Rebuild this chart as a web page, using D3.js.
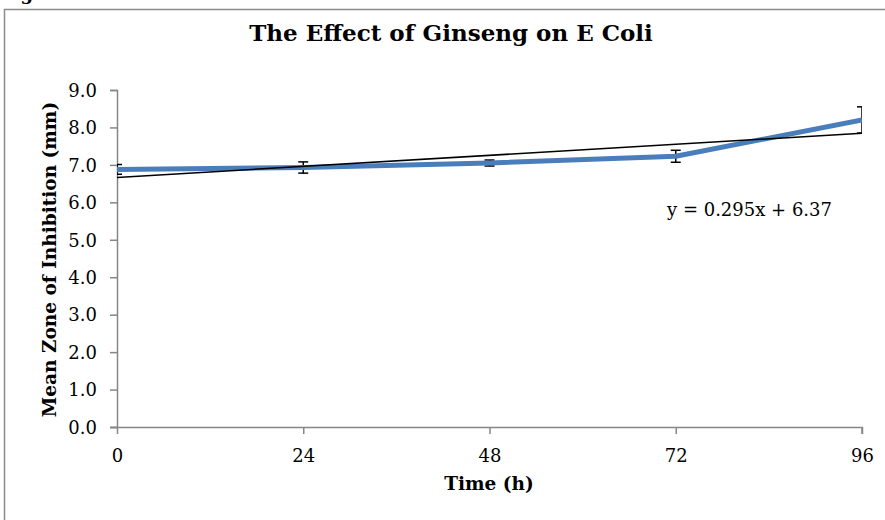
<!DOCTYPE html>
<html>
<head>
<meta charset="utf-8">
<script src="https://cdn.jsdelivr.net/npm/d3@7"></script>
<style>
  body { margin: 0; background: #fff; }
  svg text { font-family: "DejaVu Serif", serif; fill: #000; }
</style>
</head>
<body>
<div id="chart"></div>
<script>
// time points (h) and measured means
var hours = [0, 24, 48, 72, 96];
var meanZone = [6.88, 6.93, 7.05, 7.23, 8.20];
var errZone = [0.13, 0.15, 0.08, 0.16, 0.35];
var yTicks = [0, 1, 2, 3, 4, 5, 6, 7, 8, 9];
// linear trend (Excel style, x = point index 1..n)
var trendSlope = 0.295, trendIntercept = 6.37;

var w = 885, h = 520;
var mLeft = 117, mRight = 862, mTop = 90, mBottom = 427;

var svg = d3.select("#chart").append("svg")
    .attr("width", w)
    .attr("height", h);

// figure caption, cut off at the top edge
svg.append("text")
    .attr("x", 1)
    .attr("y", 0)
    .style("font-weight", "bold")
    .style("font-size", "18px")
    .text("Fig. 3");

// chart frame
svg.append("rect")
    .attr("x", 4.5)
    .attr("y", 9.5)
    .attr("width", 900)
    .attr("height", 540)
    .style("fill", "none")
    .style("stroke", "#8c8c8c")
    .style("stroke-width", 1.5);

var x = d3.scaleLinear().domain([0, 96]).range([mLeft, mRight]);
var y = d3.scaleLinear().domain([0, 9]).range([mBottom, mTop]);

svg.append("defs").append("clipPath")
    .attr("id", "plot")
  .append("rect")
    .attr("x", mLeft)
    .attr("y", mTop - 10)
    .attr("width", mRight - mLeft)
    .attr("height", mBottom - mTop + 10);

// axes
var yAxis = svg.append("g")
    .attr("transform", "translate(" + mLeft + ",0)")
    .call(d3.axisLeft(y).tickValues(yTicks).tickSize(7).tickPadding(13)
      .tickFormat(d3.format(".1f")));

var xAxis = svg.append("g")
    .attr("transform", "translate(0," + mBottom + ")")
    .call(d3.axisBottom(x).tickValues(hours).tickSize(7).tickPadding(15));

[yAxis, xAxis].forEach(function (ax) {
  ax.select(".domain").style("stroke", "#868686").style("stroke-width", 1.5);
  ax.selectAll(".tick line").style("stroke", "#868686").style("stroke-width", 1.5);
  ax.selectAll("text").style("font-size", "18px")
    .style("font-family", "DejaVu Serif, serif").style("fill", "#000");
});
yAxis.selectAll("text").attr("dy", "0.35em");
xAxis.select(".domain").attr("d", "M" + (mLeft - 7) + ",0.5H" + mRight + "V7");

var plot = svg.append("g").attr("clip-path", "url(#plot)");

// error bars
var eb = plot.selectAll("g.err")
    .data(hours.map(function (t, i) { return { t: t, m: meanZone[i], e: errZone[i] }; }))
  .enter().append("g")
    .attr("class", "err")
    .style("stroke", "#000")
    .style("stroke-width", 1.5);

eb.append("line")
    .attr("x1", function (d) { return x(d.t); })
    .attr("x2", function (d) { return x(d.t); })
    .attr("y1", function (d) { return y(d.m - d.e); })
    .attr("y2", function (d) { return y(d.m + d.e); });
eb.selectAll("line.cap")
    .data(function (d) { return [d.m - d.e, d.m + d.e].map(function (v) { return { t: d.t, v: v }; }); })
  .enter().append("line")
    .attr("class", "cap")
    .attr("x1", function (d) { return x(d.t) - 5; })
    .attr("x2", function (d) { return x(d.t) + 5; })
    .attr("y1", function (d) { return y(d.v); })
    .attr("y2", function (d) { return y(d.v); });

// data line
var line = d3.line()
    .x(function (d, i) { return x(hours[i]); })
    .y(function (d) { return y(d); });

plot.append("path")
    .datum(meanZone)
    .attr("d", line)
    .style("fill", "none")
    .style("stroke", "#4a7ebb")
    .style("stroke-width", 5)
    .style("stroke-linejoin", "round");

// trend line
plot.append("line")
    .attr("x1", x(hours[0]))
    .attr("x2", x(hours[hours.length - 1]))
    .attr("y1", y(trendSlope * 1 + trendIntercept))
    .attr("y2", y(trendSlope * hours.length + trendIntercept))
    .style("stroke", "#000")
    .style("stroke-width", 1.5);

svg.append("text")
    .attr("x", 667)
    .attr("y", 216)
    .style("font-size", "18px")
    .text("y = " + trendSlope.toFixed(3) + "x + " + trendIntercept.toFixed(2));

// titles
svg.append("text")
    .attr("x", 451)
    .attr("y", 41)
    .attr("text-anchor", "middle")
    .style("font-weight", "bold")
    .style("font-size", "23px")
    .text("The Effect of Ginseng on E Coli");

svg.append("text")
    .attr("x", 489)
    .attr("y", 490)
    .attr("text-anchor", "middle")
    .style("font-weight", "bold")
    .style("font-size", "18.5px")
    .text("Time (h)");

svg.append("text")
    .attr("transform", "translate(56," + ((mTop + mBottom) / 2 + 1) + ") rotate(-90)")
    .attr("text-anchor", "middle")
    .style("font-weight", "bold")
    .style("font-size", "18.5px")
    .text("Mean Zone of Inhibition (mm)");
</script>
</body>
</html>
